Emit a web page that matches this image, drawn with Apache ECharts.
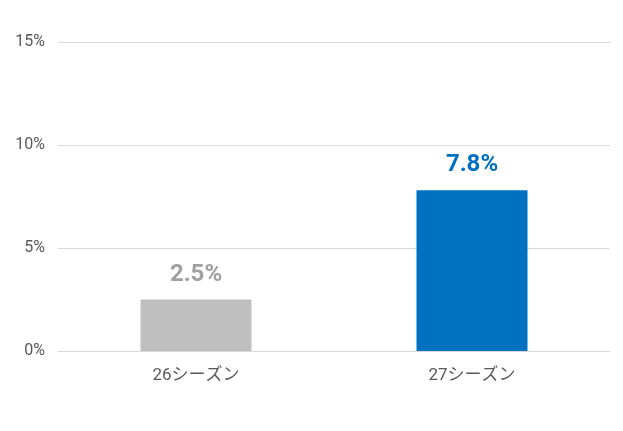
<!DOCTYPE html>
<html><head><meta charset="utf-8">
<script src="https://cdn.jsdelivr.net/npm/echarts@6/dist/echarts.min.js"></script>
<style>html,body{margin:0;padding:0;background:#fff}#c{width:623px;height:431px}</style>
</head><body><div id="c"></div>
<script>
const categories = ['26シーズン', '27シーズン'];
const values = [2.5, 7.8];
const colors = ['#BFBFBF', '#0070C0'];
const labelColors = ['#A0A0A0', '#0070C0'];
const yTicks = [0, 5, 10, 15];

const chart = echarts.init(document.getElementById('c'));
chart.setOption({
  animation: false,
  grid: { left: 58, right: 13, top: 42, bottom: 80 },
  xAxis: {
    type: 'category',
    data: categories,
    axisTick: { show: false },
    axisLine: { lineStyle: { color: '#D9D9D9', width: 1 } },
    axisLabel: { color: '#595959', fontSize: 17, margin: 16, fontFamily: 'Roboto, "Noto Sans CJK JP", sans-serif' }
  },
  yAxis: {
    type: 'value',
    min: yTicks[0], max: yTicks[yTicks.length - 1], interval: 5,
    axisLine: { show: false },
    axisTick: { show: false },
    splitLine: { lineStyle: { color: '#D9D9D9', width: 1 } },
    axisLabel: { color: '#595959', fontSize: 16, margin: 13, formatter: v => v + '%', fontFamily: 'Roboto, "Noto Sans CJK JP", sans-serif' }
  },
  series: [{
    type: 'bar',
    barWidth: 111,
    data: values.map((v, i) => ({
      value: v,
      itemStyle: { color: colors[i] },
      label: { color: labelColors[i] }
    })),
    label: {
      show: true, position: 'top', distance: 13,
      fontSize: 24, fontWeight: 'bold',
      fontFamily: 'Roboto, "Noto Sans CJK JP", sans-serif',
      formatter: p => p.value.toFixed(1) + '%'
    }
  }]
});
</script></body></html>
